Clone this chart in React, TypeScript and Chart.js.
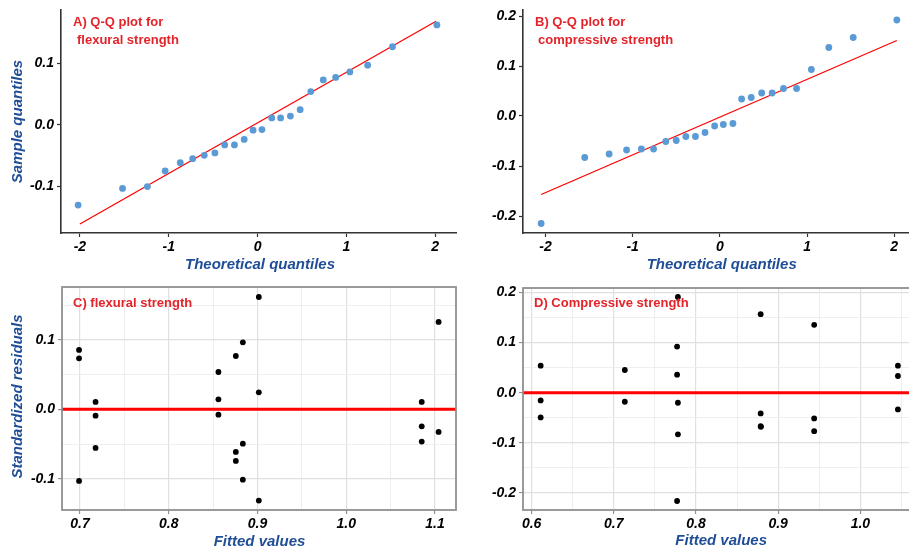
import React, { useEffect, useRef } from "react";
import { Chart, registerables } from "chart.js";

Chart.register(...registerables);

const FONT = "'Liberation Sans', Arial, Helvetica, sans-serif";
const TITLE_RED = "#E3242B";
const AXIS_BLUE = "#1F4E96";
const POINT_BLUE = "#5B9BD5";

// ---------- Data ----------
// Panel A: Q-Q plot, flexural strength
const theoreticalA = [-2.02, -1.52, -1.24, -1.04, -0.87, -0.73, -0.6, -0.48, -0.37, -0.26, -0.15, -0.05, 0.05, 0.16, 0.26, 0.37, 0.48, 0.6, 0.74, 0.88, 1.04, 1.24, 1.52, 2.02];
const sampleA = [-0.131, -0.104, -0.101, -0.0755, -0.062, -0.0555, -0.05, -0.046, -0.033, -0.033, -0.024, -0.009, -0.008, 0.011, 0.011, 0.014, 0.0245, 0.054, 0.073, 0.077, 0.086, 0.097, 0.127, 0.1625];
const qqLineAX = [-2.0, 2.01];
const qqLineAY = [-0.162, 0.1685];

// Panel B: Q-Q plot, compressive strength
const theoreticalB = [-2.05, -1.55, -1.27, -1.07, -0.9, -0.76, -0.62, -0.5, -0.39, -0.28, -0.17, -0.06, 0.04, 0.15, 0.25, 0.36, 0.48, 0.6, 0.73, 0.88, 1.05, 1.25, 1.53, 2.03];
const sampleB = [-0.215, -0.083, -0.076, -0.068, -0.066, -0.066, -0.051, -0.049, -0.041, -0.041, -0.033, -0.02, -0.017, -0.015, 0.034, 0.037, 0.046, 0.046, 0.055, 0.055, 0.093, 0.137, 0.157, 0.192];
const qqLineBX = [-2.05, 2.03];
const qqLineBY = [-0.157, 0.151];

// Panel C: residuals vs fitted, flexural strength
const fittedC = [0.699, 0.699, 0.699, 0.7176, 0.7176, 0.7176, 0.856, 0.856, 0.856, 0.8756, 0.8756, 0.8756, 0.8835, 0.8835, 0.8835, 0.9015, 0.9015, 0.9015, 1.085, 1.085, 1.085, 1.104, 1.104];
const residC = [0.0854, 0.0734, -0.1031, 0.0106, -0.0091, -0.0556, 0.0537, 0.0144, -0.0077, 0.0767, -0.0614, -0.0743, 0.0964, -0.0494, -0.1012, 0.1616, 0.0245, -0.1314, 0.0106, -0.0245, -0.0465, 0.1257, -0.0326];

// Panel D: residuals vs fitted, compressive strength
const fittedD = [0.611, 0.611, 0.611, 0.7134, 0.7134, 0.778, 0.777, 0.777, 0.778, 0.778, 0.777, 0.8787, 0.8787, 0.8787, 0.879, 0.9438, 0.9438, 0.9438, 1.0457, 1.0457, 1.0457];
const residD = [0.054, -0.0153, -0.0493, 0.0453, -0.018, 0.191, 0.092, 0.036, -0.02, -0.083, -0.216, 0.1567, -0.0413, -0.0667, -0.068, 0.1353, -0.0513, -0.0767, 0.054, 0.0333, -0.0333];

// Axis ranges
const rangeA = { xMin: -2.213, xMax: 2.235, yMin: -0.1766, yMax: 0.1869 };
const rangeB = { xMin: -2.258, xMax: 2.25, yMin: -0.234, yMax: 0.212 };
const rangeC = { xMin: 0.6798, xMax: 1.1236, yMin: -0.1449, yMax: 0.176 };
const rangeD = { xMin: 0.5895, xMax: 1.0677, yMin: -0.2339, yMax: 0.2088 };

// ---------- Helpers ----------
const TICK_FONT = { family: FONT, size: 14, weight: "bold" as const, style: "italic" as const, lineHeight: 1 };

const isMajor = (v: number) => Math.abs(v * 10 - Math.round(v * 10)) < 1e-6;
const fmt1 = (v: number) => (isMajor(v) ? (Math.round(v * 10) / 10).toFixed(1) : "");
const fmtInt = (v: number) => String(Math.round(v));

type TextItem = { text: string; x: number; y: number; color: string; size: number; italic?: boolean; align?: CanvasTextAlign; rotate?: boolean };

function textPlugin(items: TextItem[]) {
  return {
    id: "panelText",
    afterDraw(chart: any) {
      const ctx = chart.ctx as CanvasRenderingContext2D;
      items.forEach((t) => {
        ctx.save();
        ctx.font = `${t.italic ? "italic " : ""}bold ${t.size}px ${FONT}`;
        ctx.fillStyle = t.color;
        ctx.textAlign = t.align || "left";
        ctx.textBaseline = "alphabetic";
        if (t.rotate) {
          ctx.translate(t.x, t.y);
          ctx.rotate(-Math.PI / 2);
          ctx.fillText(t.text, 0, 0);
        } else {
          ctx.fillText(t.text, t.x, t.y);
        }
        ctx.restore();
      });
    },
  };
}

const boxPlugin = {
  id: "panelBox",
  afterDatasetsDraw(chart: any) {
    const { left, top, right, bottom } = chart.chartArea;
    const ctx = chart.ctx as CanvasRenderingContext2D;
    ctx.save();
    ctx.strokeStyle = "#909090";
    ctx.lineWidth = 1.8;
    ctx.strokeRect(left, top, right - left, bottom - top);
    ctx.restore();
  },
};

type Layout = { yWidth: number; xHeight: number; padding: { top: number; right: number; bottom: number; left: number } };

function toPoints(xs: number[], ys: number[]) {
  return xs.map((x, i) => ({ x, y: ys[i] }));
}

function buildQQ(xs: number[], ys: number[], lx: number[], ly: number[], range: any, layout: Layout, texts: TextItem[]) {
  const axisColor = "#333333";
  return {
    type: "scatter" as const,
    data: {
      datasets: [
        { data: toPoints(xs, ys), pointRadius: 3.4, pointBackgroundColor: POINT_BLUE, pointBorderWidth: 0, showLine: false },
        { data: toPoints(lx, ly), showLine: true, borderColor: "#FF0000", borderWidth: 1.3, pointRadius: 0, fill: false },
      ],
    },
    options: {
      animation: false as const,
      responsive: false,
      devicePixelRatio: 1,
      events: [],
      layout: { padding: layout.padding },
      plugins: { legend: { display: false }, tooltip: { enabled: false } },
      scales: {
        x: {
          type: "linear" as const,
          min: range.xMin,
          max: range.xMax,
          afterFit: (s: any) => { s.height = layout.xHeight; },
          ticks: { stepSize: 1, includeBounds: false, autoSkip: false, maxRotation: 0, padding: 3, color: "#000", font: TICK_FONT, callback: (v: any) => fmtInt(Number(v)) },
          grid: { display: true, drawOnChartArea: false, drawTicks: true, tickLength: 4, tickColor: axisColor, tickWidth: 1.2 },
          border: { display: true, color: axisColor, width: 1.6 },
        },
        y: {
          type: "linear" as const,
          min: range.yMin,
          max: range.yMax,
          afterFit: (s: any) => { s.width = layout.yWidth; },
          ticks: { stepSize: 0.1, includeBounds: false, autoSkip: false, padding: 3, color: "#000", font: TICK_FONT, callback: (v: any) => fmt1(Number(v)) },
          grid: { display: true, drawOnChartArea: false, drawTicks: true, tickLength: 4, tickColor: axisColor, tickWidth: 1.2 },
          border: { display: true, color: axisColor, width: 1.6 },
        },
      },
    },
    plugins: [textPlugin(texts)],
  };
}

function buildResid(xs: number[], ys: number[], range: any, layout: Layout, texts: TextItem[]) {
  const gridColor = (c: any) => (c.tick && isMajor(c.tick.value) ? "#E0E0E0" : "#EBEBEB");
  const gridWidth = (c: any) => (c.tick && isMajor(c.tick.value) ? 1.2 : 0.8);
  const tickColor = (c: any) => (c.tick && isMajor(c.tick.value) ? "#8A8A8A" : "rgba(0,0,0,0)");
  const gridOpts = { display: true, drawOnChartArea: true, drawTicks: true, tickLength: 4, color: gridColor, lineWidth: gridWidth, tickColor, tickWidth: 1.1 };
  return {
    type: "scatter" as const,
    data: {
      datasets: [
        { data: toPoints(xs, ys), pointRadius: 2.9, pointBackgroundColor: "#000", pointBorderWidth: 0, showLine: false },
        { data: [{ x: range.xMin, y: 0 }, { x: range.xMax, y: 0 }], showLine: true, borderColor: "#FF0000", borderWidth: 3, pointRadius: 0, fill: false },
      ],
    },
    options: {
      animation: false as const,
      responsive: false,
      devicePixelRatio: 1,
      events: [],
      layout: { padding: layout.padding },
      plugins: { legend: { display: false }, tooltip: { enabled: false } },
      scales: {
        x: {
          type: "linear" as const,
          min: range.xMin,
          max: range.xMax,
          afterFit: (s: any) => { s.height = layout.xHeight; },
          ticks: { stepSize: 0.05, includeBounds: false, autoSkip: false, maxRotation: 0, padding: 3, color: "#000", font: TICK_FONT, callback: (v: any) => fmt1(Number(v)) },
          grid: gridOpts,
          border: { display: false },
        },
        y: {
          type: "linear" as const,
          min: range.yMin,
          max: range.yMax,
          afterFit: (s: any) => { s.width = layout.yWidth; },
          ticks: { stepSize: 0.05, includeBounds: false, autoSkip: false, padding: 3, color: "#000", font: TICK_FONT, callback: (v: any) => fmt1(Number(v)) },
          grid: gridOpts,
          border: { display: false },
        },
      },
    },
    plugins: [textPlugin(texts), boxPlugin],
  };
}

function Panel({ left, top, width, height, build }: { left: number; top: number; width: number; height: number; build: () => any }) {
  const ref = useRef<HTMLCanvasElement | null>(null);
  useEffect(() => {
    if (!ref.current) return;
    const chart = new Chart(ref.current, build());
    return () => chart.destroy();
  }, []);
  return <canvas ref={ref} width={width} height={height} style={{ position: "absolute", left, top, width, height, display: "block" }} />;
}

const title = (text: string, x: number, y: number): TextItem => ({ text, x, y, color: TITLE_RED, size: 13 });
const xTitle = (text: string, x: number, y: number): TextItem => ({ text, x, y, color: AXIS_BLUE, size: 15, italic: true, align: "center" });
const yTitle = (text: string, x: number, y: number): TextItem => ({ text, x, y, color: AXIS_BLUE, size: 15, italic: true, align: "center", rotate: true });

export default function App() {
  useEffect(() => {
    document.body.style.margin = "0";
    document.body.style.overflow = "hidden";
  }, []);
  return (
    <div style={{ position: "fixed", left: 0, top: 0, width: 909, height: 551, overflow: "hidden", background: "#fff" }}>
      <Panel
        left={0}
        top={0}
        width={460}
        height={275}
        build={() =>
          buildQQ(theoreticalA, sampleA, qqLineAX, qqLineAY, rangeA, { yWidth: 61, xHeight: 42, padding: { top: 10, right: 2, bottom: 0, left: 0 } }, [
            title("A) Q-Q plot for", 73, 26),
            title("flexural strength", 77, 44),
            xTitle("Theoretical quantiles", 260, 269),
            yTitle("Sample quantiles", 21.5, 121.5),
          ])
        }
      />
      <Panel
        left={460}
        top={0}
        width={460}
        height={275}
        build={() =>
          buildQQ(theoreticalB, sampleB, qqLineBX, qqLineBY, rangeB, { yWidth: 63, xHeight: 42, padding: { top: 10, right: 0, bottom: 0, left: 0 } }, [
            title("B) Q-Q plot for", 75, 26),
            title("compressive strength", 78, 44),
            xTitle("Theoretical quantiles", 261.7, 269),
          ])
        }
      />
      <Panel
        left={0}
        top={275}
        width={460}
        height={276}
        build={() =>
          buildResid(fittedC, residC, rangeC, { yWidth: 62, xHeight: 41, padding: { top: 12, right: 3, bottom: 0, left: 0 } }, [
            title("C) flexural strength", 73, 32.3),
            xTitle("Fitted values", 259.5, 270.7),
            yTitle("Standardized residuals", 21.5, 121.5),
          ])
        }
      />
      <Panel
        left={460}
        top={275}
        width={460}
        height={276}
        build={() =>
          buildResid(fittedD, residD, rangeD, { yWidth: 63, xHeight: 41, padding: { top: 13, right: 1, bottom: 0, left: 0 } }, [
            title("D) Compressive strength", 74, 32.3),
            xTitle("Fitted values", 261.2, 270),
          ])
        }
      />
    </div>
  );
}
